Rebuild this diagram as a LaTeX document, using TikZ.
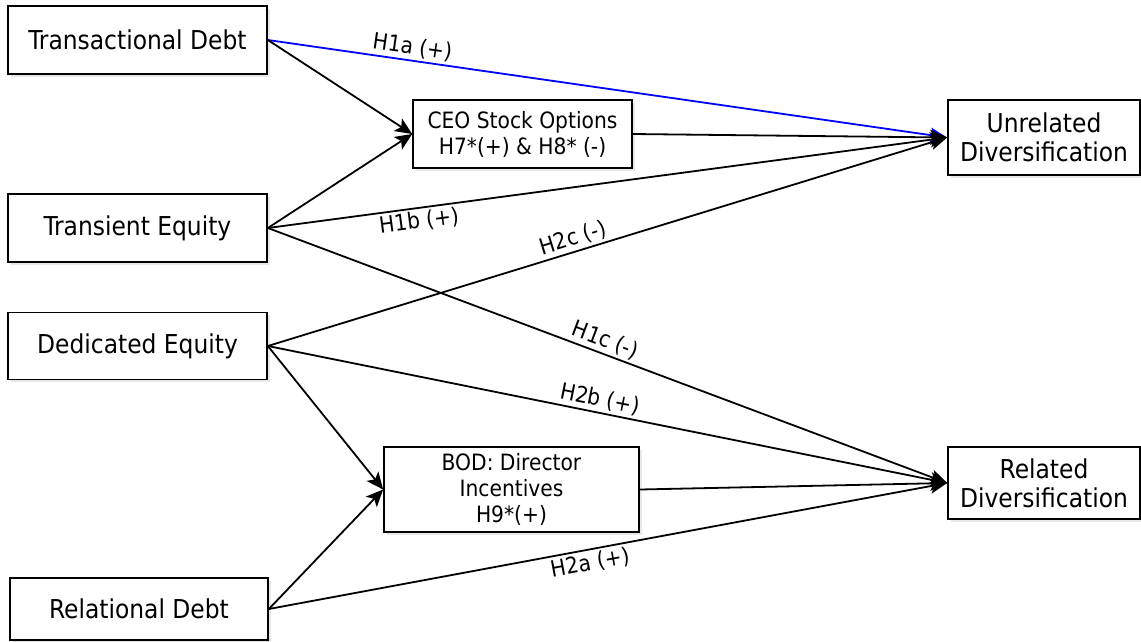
\documentclass[tikz,border=0pt]{standalone}
\usepackage{fontspec}
\setmainfont{DejaVu Sans Condensed}
\usetikzlibrary{arrows.meta,shadows}
\tikzset{
  box/.style={draw, line width=1.7pt, fill=white, align=center, inner sep=2pt,
    drop shadow={opacity=0.18, shadow xshift=2.5pt, shadow yshift=-2.5pt}},
  bigtext/.style={font=\fontsize{26}{29}\selectfont},
  midtext/.style={font=\fontsize{22.5}{26}\selectfont},
  conn/.style={line width=1.8pt, arrows={-Stealth[length=17pt,width=15pt,inset=4pt]}},
  lab/.style={font=\fontsize{22.5}{24}\selectfont, sloped, inner sep=2.5pt},
}
\begin{document}
\begin{tikzpicture}[x=1pt,y=-1pt]
\useasboundingbox (0,0) rectangle (1141,641);
% source boxes
\node[box,bigtext,minimum width=259pt,minimum height=68pt] (td) at (137.5,40) {Transactional Debt};
\node[box,bigtext,minimum width=259pt,minimum height=68pt] (te) at (137.5,228) {Transient Equity};
\node[box,bigtext,minimum width=259pt,minimum height=67pt] (de) at (137.5,346) {Dedicated Equity};
\node[box,bigtext,minimum width=258pt,minimum height=62pt] (rd) at (139,609) {Relational Debt};
% mediator boxes
\node[box,midtext,minimum width=219pt,minimum height=68pt] (ceo) at (522.5,134) {CEO Stock Options\\H7*(+) \& H8* (-)};
\node[box,midtext,minimum width=255pt,minimum height=85pt] (bod) at (511.5,489.5) {BOD: Director\\Incentives\\H9*(+)};
% outcome boxes
\node[box,bigtext,minimum width=192pt,minimum height=75pt] (ud) at (1044,137.5) {Unrelated\\Diversification};
\node[box,bigtext,minimum width=192pt,minimum height=72pt] (rdv) at (1044,483) {Related\\Diversification};
% connectors
\draw[conn,blue] (td.east) -- node[lab,pos=0.21,above,black]{H1a (+)} (ud.west);
\draw[conn] (td.east) -- (ceo.west);
\draw[conn] (te.east) -- (ceo.west);
\draw[conn] (te.east) -- node[lab,pos=0.22,below]{H1b (+)} (ud.west);
\draw[conn] (te.east) -- node[lab,pos=0.49,above]{H1c (-)} (rdv.west);
\draw[conn] (de.east) -- node[lab,pos=0.455,above]{H2c (-)} (ud.west);
\draw[conn] (de.east) -- node[lab,pos=0.485,above]{H2b (+)} (rdv.west);
\draw[conn] (de.east) -- (bod.west);
\draw[conn] (rd.east) -- (bod.west);
\draw[conn] (rd.east) -- node[lab,pos=0.47,below]{H2a (+)} (rdv.west);
\draw[conn] (ceo.east) -- (ud.west);
\draw[conn] (bod.east) -- (rdv.west);
\end{tikzpicture}
\end{document}
